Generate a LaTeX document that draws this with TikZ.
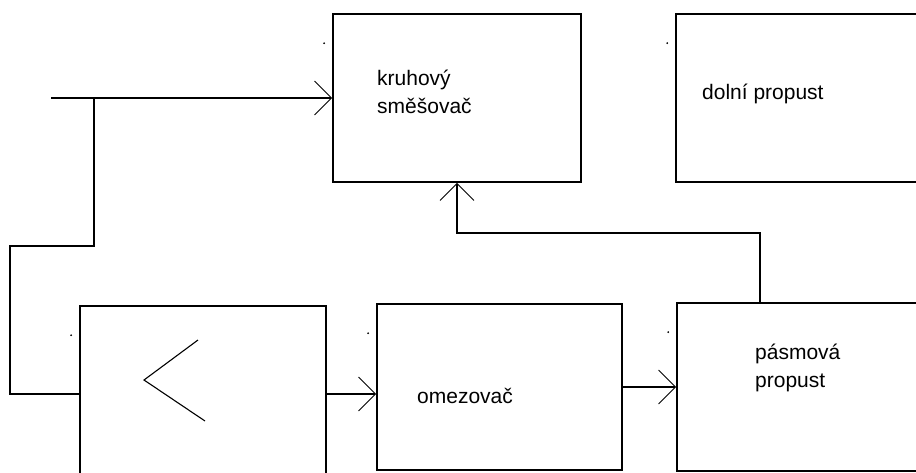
\documentclass[tikz,border=0pt]{standalone}
\usepackage{fontspec}
\setmainfont{Liberation Sans}
\usepackage{tikz}
\usetikzlibrary{arrows.meta}
\tikzset{
    block/.style={rectangle, draw=black, line width=1.6pt, inner sep=0pt},
    blocktext/.style={inner sep=0pt, align=left, font=\fontsize{21}{28}\selectfont},
    wire/.style={line width=1.6pt},
    arrow/.style={wire, -{Straight Barb[length=17pt, width=34pt, line width=0.9pt]}},
    ampsign/.style={line width=1.1pt}
}

\begin{document}
\begin{tikzpicture}[x=1pt, y=-1pt]
    \useasboundingbox (0,0) rectangle (916,472);
    \clip (0,0) rectangle (916,472);
    % blocks, the right ones run past the edge
    \node[block, minimum width=248pt, minimum height=168pt] (mixer) at (457,98) {};
    \node[block, minimum width=284pt, minimum height=168pt] (lowpass) at (818,98) {};
    \node[block, minimum width=246pt, minimum height=176pt] (amp) at (203,394) {};
    \node[block, minimum width=245pt, minimum height=166pt] (limiter) at (499.5,387) {};
    \node[block, minimum width=284pt, minimum height=168pt] (bandpass) at (819,387) {};
    % two-line texts sit on the baseline of their last line
    \node[blocktext, anchor=base west] (mixertext) at (377,113) {kruhový\\směšovač};
    \node[blocktext, anchor=base west] (lowpasstext) at (702,99) {dolní propust};
    \node[blocktext, anchor=base west] (limitertext) at (417,403) {omezovač};
    \node[blocktext, anchor=base west] (bandpasstext) at (755,387) {pásmová\\propust};
    \draw[ampsign] (198,340) -- (144,380) -- (205,421);
    % small marks at the top left of each block
    \foreach \b in {mixer, lowpass, amp, limiter, bandpass}
        \fill ([shift={(-8pt,-30pt)}]\b.north west) circle (1pt);
    \coordinate (in) at (51,98);
    \coordinate (split) at (94,98);
    \coordinate (back) at (10,246);
    \draw[arrow] (in) -- (mixer);
    \draw[wire] (split) |- (back) |- (amp.west);
    \draw[arrow] (amp.east) -- (amp.east -| limiter.west);
    \draw[arrow] (limiter) -- (bandpass);
    \draw[arrow] ([xshift=-59pt]bandpass.north) -- ++(0,-69) -| (mixer.south);
\end{tikzpicture}
\end{document}
